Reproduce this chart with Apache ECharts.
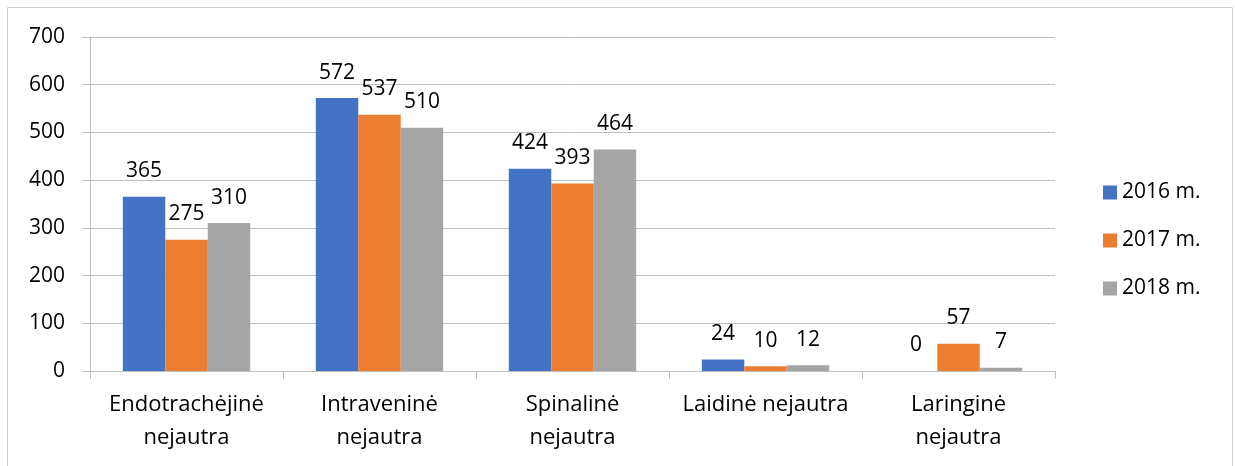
<!DOCTYPE html>
<html><head><meta charset="utf-8">
<script src="https://cdn.jsdelivr.net/npm/echarts@6/dist/echarts.min.js"></script>
<style>html,body{margin:0;padding:0;background:#fff}#c{width:1235px;height:466px}</style>
</head><body><div id="c"></div>
<script>
const categories = ['Endotrachėjinė\nnejautra', 'Intraveninė\nnejautra', 'Spinalinė\nnejautra', 'Laidinė nejautra', 'Laringinė\nnejautra'];
const seriesNames = ['2016 m.', '2017 m.', '2018 m.'];
const s2016 = [365, 572, 424, 24, 0];
const s2017 = [275, 537, 393, 10, 57];
const s2018 = [310, 510, 464, 12, 7];
const colors = ['#4472C4', '#ED7D31', '#A5A5A5'];
const font = '"Open Sans", Lato, sans-serif';
const chart = echarts.init(document.getElementById('c'), null, {renderer: 'canvas'});
const data = [s2016, s2017, s2018];
chart.setOption({
  animation: false,
  textStyle: {fontFamily: font},
  graphic: [{type: 'rect', shape: {x: 7.5, y: 7.5, width: 1225, height: 470}, style: {fill: 'none', stroke: '#d0d0d0', lineWidth: 1}}],
  legend: {
    orient: 'vertical', left: 1098, top: 177, itemWidth: 14, itemHeight: 14, itemGap: 27,
    icon: 'rect',
    textStyle: {fontSize: 21, color: '#000', fontFamily: font, padding: [0, 0, 0, 0]},
    data: seriesNames
  },
  grid: {left: 90, right: 180, top: 37, bottom: 95, containLabel: false},
  xAxis: {
    type: 'category', data: categories,
    axisLine: {lineStyle: {color: '#bfbfbf'}},
    axisTick: {show: true, length: 8, lineStyle: {color: '#bfbfbf'}},
    axisLabel: {fontSize: 22, color: '#000', lineHeight: 33, margin: 17, interval: 0, fontFamily: font}
  },
  yAxis: {
    type: 'value', min: 0, max: 700, interval: 100,
    axisLine: {show: true, lineStyle: {color: '#bfbfbf'}},
    axisTick: {show: true, length: 8, lineStyle: {color: '#bfbfbf'}},
    splitLine: {lineStyle: {color: '#bfbfbf'}},
    axisLabel: {fontSize: 21, color: '#000', margin: 25, fontFamily: font}
  },
  series: seriesNames.map((n, i) => ({
    name: n, type: 'bar', data: data[i], barGap: '0%', barCategoryGap: '34%',
    itemStyle: {color: colors[i]},
    label: {show: true, position: 'top', fontSize: 21, color: '#000', distance: 15, fontFamily: font}
  }))
});
</script></body></html>
